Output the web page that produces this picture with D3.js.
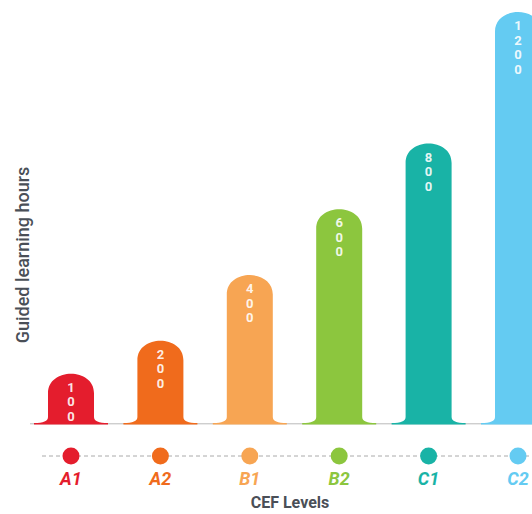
<!DOCTYPE html>
<html>
<head>
<meta charset="utf-8">
<script src="https://cdn.jsdelivr.net/npm/d3@7"></script>
<style>
  body { margin: 0; background: #fff; }
  svg { display: block; }
</style>
</head>
<body>
<div id="chart"></div>
<script>
const levels = ['A1', 'A2', 'B1', 'B2', 'C1', 'C2'];
const hours = [100, 200, 400, 600, 800, 1200];
const colors = ['#e41d2d', '#f06b1c', '#f7a553', '#8cc63e', '#19b3a6', '#64cbf2'];

const W = 532, H = 514;
const base = 423;
const barW = 46;

const svg = d3.select('#chart').append('svg')
  .attr('width', W)
  .attr('height', H);

const x = d3.scalePoint()
  .domain(levels)
  .range([71, 518]);

// scale starts a bit below zero so the short bars keep their cap
const y = d3.scaleLinear()
  .domain([-50, 1200])
  .range([base, 12]);

const color = d3.scaleOrdinal().domain(levels).range(colors);

const data = levels.map((d, i) => ({ key: d, value: hours[i] }));

// bar with round cap and a small flare at the bottom
function barPath(d) {
  const cx = x(d.key), l = cx - barW / 2, r = cx + barW / 2;
  const top = y(d.value);
  const rad = barW / 2, ry = rad * 0.85;
  const p = d3.path();
  p.moveTo(l - 14, base);
  p.quadraticCurveTo(l, base, l, base - 6);
  p.lineTo(l, top + ry);
  p.bezierCurveTo(l, top - ry * 0.33, r, top - ry * 0.33, r, top + ry);
  p.lineTo(r, base - 6);
  p.quadraticCurveTo(r, base, r + 14, base);
  p.lineTo(r + 14, base + 1.5);
  p.lineTo(l - 14, base + 1.5);
  p.closePath();
  return p.toString();
}

// thin baseline
svg.append('line')
  .attr('x1', 30).attr('x2', W)
  .attr('y1', base + 0.8).attr('y2', base + 0.8)
  .attr('stroke', '#b9b9b9')
  .attr('stroke-width', 1);

const bars = svg.selectAll('.bar')
  .data(data)
  .enter().append('g')
  .attr('class', 'bar');

bars.append('path')
  .attr('d', barPath)
  .attr('fill', d => color(d.key));

// stacked digits inside the bar
bars.each(function(d) {
  const digits = String(d.value).split('');
  const g = d3.select(this);
  const top = y(d.value);
  digits.forEach((c, i) => {
    g.append('text')
      .attr('x', x(d.key))
      .attr('y', top + 18 + i * 14.5)
      .attr('text-anchor', 'middle')
      .attr('font-family', 'Roboto, sans-serif')
      .attr('font-weight', 'bold')
      .attr('font-size', 13)
      .attr('fill', '#fff')
      .attr('fill-opacity', 0.9)
      .text(c);
  });
});

// dashed category axis with dots
const axisY = 456;
svg.append('line')
  .attr('x1', 42).attr('x2', W)
  .attr('y1', axisY).attr('y2', axisY)
  .attr('stroke', '#aaa')
  .attr('stroke-width', 1)
  .attr('stroke-dasharray', '4,3');

svg.selectAll('.dot')
  .data(data)
  .enter().append('circle')
  .attr('class', 'dot')
  .attr('cx', d => x(d.key))
  .attr('cy', axisY)
  .attr('r', 8.5)
  .attr('fill', d => color(d.key));

svg.selectAll('.lvl')
  .data(data)
  .enter().append('text')
  .attr('class', 'lvl')
  .attr('x', d => x(d.key))
  .attr('y', 485)
  .attr('text-anchor', 'middle')
  .attr('font-family', 'Roboto, sans-serif')
  .attr('font-weight', 'bold')
  .attr('font-style', 'italic')
  .attr('font-size', 18)
  .attr('fill', d => color(d.key))
  .text(d => d.key);

svg.append('text')
  .attr('x', 290)
  .attr('y', 508)
  .attr('text-anchor', 'middle')
  .attr('font-family', 'Roboto, sans-serif')
  .attr('font-weight', 'bold')
  .attr('font-size', 16)
  .attr('fill', '#4a4f57')
  .text('CEF Levels');

svg.append('text')
  .attr('transform', 'translate(29,255) rotate(-90)')
  .attr('text-anchor', 'middle')
  .attr('font-family', 'Roboto, sans-serif')
  .attr('font-weight', '500')
  .attr('font-size', 18)
  .attr('fill', '#4a4f57')
  .text('Guided learning hours');
</script>
</body>
</html>
